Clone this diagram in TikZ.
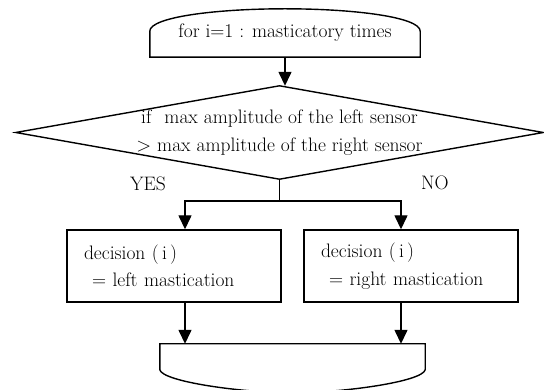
\documentclass[tikz,border=0pt]{standalone}
\usetikzlibrary{arrows.meta,calc}
\newcommand{\fs}{\fontsize{19.5pt}{27.5pt}\selectfont}
\tikzset{
  outline/.style={draw, line width=1.4pt, line join=miter},
  arr/.style={-{Triangle[length=14pt,width=13pt]}, line width=1.4pt},
  txt/.style={font=\fs, inner sep=0pt},
  decbox/.style={draw, line width=1.4pt, minimum width=214pt, minimum height=72pt,
    text width=180pt, align=left, font=\fs, inner xsep=17pt, inner ysep=0pt},
}

\begin{document}
\begin{tikzpicture}[x=1pt, y=-1pt]
    \useasboundingbox (0,0) rectangle (544,390);
    % loop start
    \node[txt, minimum width=270pt, minimum height=48pt] (loop) at (285,33) {for i=1 : masticatory times};
    \draw[outline] (loop.south west) -- ++(0,-26) .. controls +(0,-14) and +(-70,0) .. (loop.north)
      .. controls +(70,0) and +(0,-14) .. ($(loop.south east)+(0,-26)$) -- (loop.south east) -- cycle;
    % condition
    \node[txt, minimum width=527pt, minimum height=93pt, align=center] (dia) at (279.5,132.5)
      {if\hspace{13pt}max amplitude of the left sensor\\ \textgreater{} max amplitude of the right sensor};
    \draw[outline] (dia.north) -- (dia.east) -- (dia.south) -- (dia.west) -- cycle;
    \draw[arr] (loop.south) -- (loop.south |- dia.north);
    \node[txt] (yes) at (148,184) {YES};
    \node[txt] (no) at (435,183) {NO};
    % branches
    \node[decbox] (lbox) at (174,266) {decision (\,i\,)\\\hspace{8pt}= left mastication};
    \node[decbox] (rbox) at (411,266) {decision (\,i\,)\\\hspace{8pt}= right mastication};
    \coordinate (split) at ($(dia.south)+(0,22)$);
    \draw[outline] (dia.south) -- (split);
    \draw[arr] (split) -| ([xshift=11pt]lbox.north);
    \draw[arr] (split) -| ([xshift=-10pt]rbox.north);
    % loop end
    \node[txt, minimum width=265pt, minimum height=50pt] (endl) at (292.5,369) {};
    \draw[outline] (endl.north west) -- ++(0,26) .. controls +(3,12) and +(-50,0) .. ($(endl.north)+(0,49)$)
      .. controls +(50,0) and +(-3,12) .. ($(endl.north east)+(0,26)$) -- (endl.north east) -- cycle;
    \draw[arr] ([xshift=11pt]lbox.south) -- ([xshift=11pt]lbox.south |- endl.north);
    \draw[arr] ([xshift=-10pt]rbox.south) -- ([xshift=-10pt]rbox.south |- endl.north);
  \end{tikzpicture}
\end{document}
